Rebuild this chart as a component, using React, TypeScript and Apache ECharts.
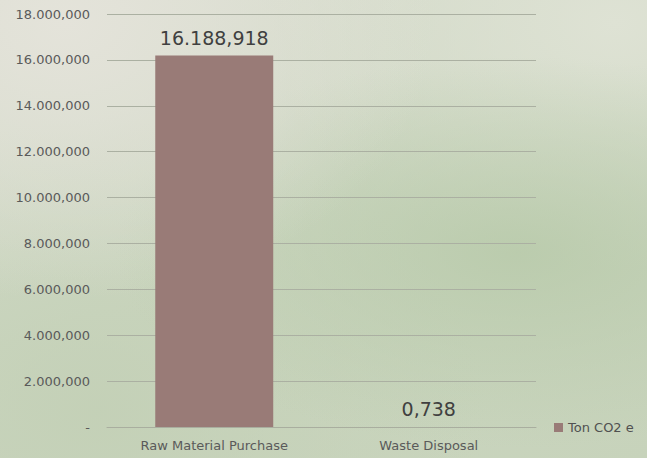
import React, { useEffect, useRef } from "react";
import * as echarts from "echarts";

const categories = ["Raw Material Purchase", "Waste Disposal"];
const seriesName = "Ton CO2 e";
const values = [16188.918, 0.738];
const yMax = 18000;
const yInterval = 2000;

function fmt(v: number): string {
  const [i, d] = v.toFixed(3).split(".");
  return i.replace(/\B(?=(\d{3})+(?!\d))/g, ".") + "," + d;
}

const FONT = "'DejaVu Sans', 'Noto Sans', sans-serif";

export default function App() {
  const ref = useRef<HTMLDivElement>(null);
  useEffect(() => {
    if (!ref.current) return;
    const chart = echarts.init(ref.current, null, { renderer: "svg" });
    chart.setOption({
      animation: false,
      backgroundColor: "transparent",
      grid: { left: 107, right: 111, top: 14, bottom: 31, containLabel: false },
      legend: {
        data: [seriesName],
        left: 549,
        top: 416,
        icon: "rect",
        itemWidth: 9,
        itemHeight: 9,
        itemGap: 4,
        textStyle: { color: "#505050", fontSize: 13, fontFamily: FONT },
      },
      xAxis: {
        type: "category",
        data: categories,
        axisLine: { show: true, lineStyle: { color: "#a9ae9f", width: 1 } },
        axisTick: { show: false },
        axisLabel: { color: "#5a5a5a", fontSize: 13, fontFamily: FONT, margin: 12 },
      },
      yAxis: {
        type: "value",
        min: 0,
        max: yMax,
        interval: yInterval,
        axisLine: { show: false },
        axisTick: { show: false },
        splitLine: { lineStyle: { color: "#abb0a2", width: 1 } },
        axisLabel: {
          color: "#5a5a5a",
          fontSize: 13,
          fontFamily: FONT,
          margin: 17,
          formatter: (v: number) => (v === 0 ? "-" : fmt(v)),
        },
      },
      series: [
        {
          name: seriesName,
          type: "bar",
          data: values,
          barWidth: "55%",
          itemStyle: { color: "#997b77" },
          label: {
            show: true,
            position: "top",
            distance: 8,
            color: "#404040",
            fontSize: 19,
            fontFamily: FONT,
            formatter: (p: any) => fmt(p.value),
          },
        },
      ],
    });
    return () => chart.dispose();
  }, []);
  return (
    <div
      style={{
        position: "fixed",
        left: 0,
        top: 0,
        width: 647,
        height: 458,
        background:
          "radial-gradient(ellipse at 10% 5%, rgba(228,227,218,1) 0%, rgba(228,227,218,0) 45%)," +
          "radial-gradient(ellipse at 80% 55%, rgba(184,202,170,0.85) 0%, rgba(184,202,170,0) 55%)," +
          "radial-gradient(ellipse at 15% 90%, rgba(195,208,182,0.9) 0%, rgba(195,208,182,0) 50%)," +
          "radial-gradient(ellipse at 95% 5%, rgba(222,226,212,1) 0%, rgba(222,226,212,0) 40%)," +
          "linear-gradient(160deg, #d9ddcf 0%, #cdd7c2 50%, #c7d3bb 100%)",
      }}
    >
      <div ref={ref} style={{ width: 647, height: 458 }} />
    </div>
  );
}
